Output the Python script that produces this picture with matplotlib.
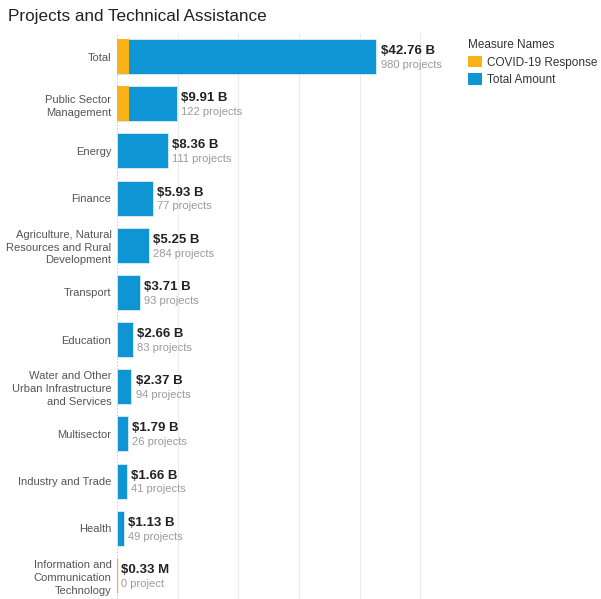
import numpy as np
import matplotlib
matplotlib.use("Agg")
import matplotlib.pyplot as plt
from matplotlib.patches import Patch

plt.rcParams['font.family'] = ['Liberation Sans', 'DejaVu Sans']

# data (billions of USD)
sectors = ["Total", "Public Sector\nManagement", "Energy", "Finance",
           "Agriculture, Natural\nResources and Rural\nDevelopment", "Transport",
           "Education", "Water and Other\nUrban Infrastructure\nand Services",
           "Multisector", "Industry and Trade", "Health",
           "Information and\nCommunication\nTechnology"]
total_amount = [42.76, 9.91, 8.36, 5.93, 5.25, 3.71, 2.66, 2.37, 1.79, 1.66, 1.13, 0.00033]
covid_amount = [1.95, 1.95, 0.03, 0.02, 0.03, 0.03, 0.02, 0.02, 0.02, 0.02, 0.02, 0.00033]
amount_labels = ["$42.76 B", "$9.91 B", "$8.36 B", "$5.93 B", "$5.25 B", "$3.71 B",
                 "$2.66 B", "$2.37 B", "$1.79 B", "$1.66 B", "$1.13 B", "$0.33 M"]
project_labels = ["980 projects", "122 projects", "111 projects", "77 projects",
                  "284 projects", "93 projects", "83 projects", "94 projects",
                  "26 projects", "41 projects", "49 projects", "0 project"]

blue = "#0f95d4"
orange = "#fbb118"

fig = plt.figure(figsize=(6.01, 5.99), dpi=100)
ax = fig.add_axes([117 / 601, 0.0, (455 - 117) / 601, (599 - 33) / 599])

y = np.arange(len(sectors))
ax.barh(y, total_amount, height=0.74, color=blue, edgecolor="#d8eef9", linewidth=0.6, zorder=3)
ax.barh(y, covid_amount, height=0.74, color=orange, linewidth=0, zorder=4)
# the ICT bar is too small to see, tableau draws it as a thin line
ax.barh(y[-1], covid_amount[-1], height=0.74, color=orange, edgecolor=orange, linewidth=1.0, zorder=4)

for i in range(len(sectors)):
    ax.annotate(amount_labels[i], (total_amount[i], y[i]), xytext=(3, 4), textcoords="offset points",
                fontsize=9.5, fontweight="bold", color="#222222", va="center", ha="left", zorder=5)
    ax.annotate(project_labels[i], (total_amount[i], y[i]), xytext=(3, -6), textcoords="offset points",
                fontsize=8, color="#9a9a9a", va="center", ha="left", zorder=5)

ax.set_xlim(0, 55.7)
ax.set_ylim(len(sectors) - 0.5, -0.5)
ax.set_yticks(y)
ax.set_yticklabels(sectors, fontsize=8, color="#555555", linespacing=1.35)
ax.tick_params(axis="y", length=0, pad=4)
ax.set_xticks([10, 20, 30, 40, 50])
ax.tick_params(axis="x", length=0, labelbottom=False)
ax.grid(axis="x", color="#ececec", linewidth=0.8, zorder=0)
ax.axvline(0, color="#bbbbbb", linestyle=(0, (1, 2)), linewidth=0.8, zorder=2)
for s in ax.spines.values():
    s.set_visible(False)

fig.text(8 / 601, 1 - 16 / 599, "Projects and Technical Assistance", fontsize=12.3,
         color="#222222", va="center", ha="left")

handles = [Patch(facecolor=orange, edgecolor="none", label="COVID-19 Response"),
           Patch(facecolor=blue, edgecolor="none", label="Total Amount")]
leg = fig.legend(handles=handles, title="Measure Names", loc="upper left",
                 bbox_to_anchor=(460 / 601, 1 - 31 / 599), frameon=False,
                 fontsize=8.5, title_fontsize=8.5, handlelength=1.15, handleheight=1.1,
                 handletextpad=0.45, labelspacing=0.4, borderpad=0.2)
leg._legend_box.align = "left"
leg.get_title().set_color("#333333")
for t in leg.get_texts():
    t.set_color("#333333")

fig.savefig("out.png", dpi=100)
